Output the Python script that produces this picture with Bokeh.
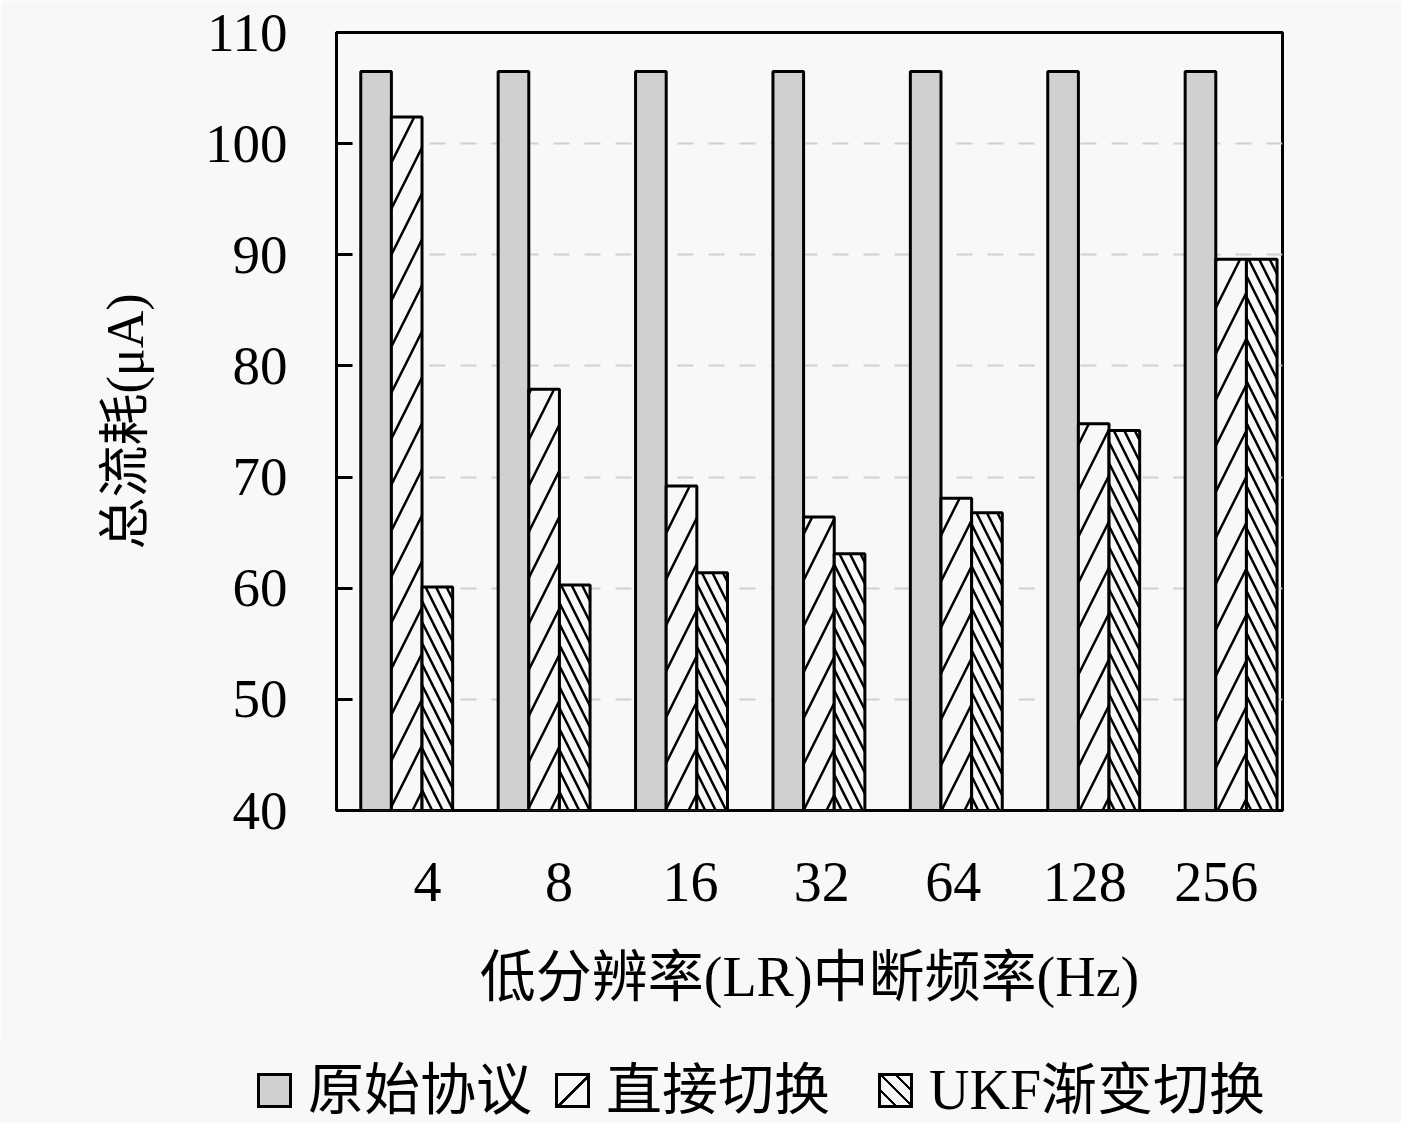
from bokeh.plotting import figure
from bokeh.layouts import column
from bokeh.models import ColumnDataSource, Range1d, LinearAxis, FixedTicker, Div
from bokeh.transform import dodge
from bokeh.embed import file_html
from bokeh.resources import INLINE

# low-resolution interrupt frequency (Hz)
freqs = ["4", "8", "16", "32", "64", "128", "256"]
# total current consumption (uA)
original = [106.5, 106.5, 106.5, 106.5, 106.5, 106.5, 106.5]
direct = [102.4, 77.9, 69.2, 66.4, 68.1, 74.8, 89.6]
ukf = [60.1, 60.3, 61.4, 63.1, 66.8, 74.2, 89.6]
names = ["原始协议", "直接切换", "UKF渐变切换"]
y_ticks = [40, 50, 60, 70, 80, 90, 100, 110]

FONT = "'Liberation Serif', 'Noto Sans CJK SC', serif"
BG = "#f8f8f8"
GRAY = "#d0d0d0"
BAR_W = 0.223
STYLES = [
    dict(fill_color=GRAY, line_color="black", line_width=3),
    dict(fill_color=BG, line_color="black", line_width=3,
         hatch_pattern="/", hatch_color="black", hatch_weight=2.5, hatch_scale=46),
    dict(fill_color=BG, line_color="black", line_width=3,
         hatch_pattern="\\", hatch_color="black", hatch_weight=2.5, hatch_scale=21),
]
# same fills for the legend swatches
SWATCHES = [
    GRAY,
    f"repeating-linear-gradient(135deg, {BG} 0 20px, black 20px 23px)",
    f"repeating-linear-gradient(45deg, {BG} 0 9px, black 9px 11px)",
]

idx = list(range(len(freqs)))
src = ColumnDataSource(dict(x=idx, original=original, direct=direct, ukf=ukf))

p = figure(frame_width=946, frame_height=778, output_backend="svg", toolbar_location=None,
           x_range=Range1d(-0.511, 6.374), y_range=Range1d(40, 110),
           x_axis_location=None,
           min_border_left=336, min_border_right=119, min_border_top=32, min_border_bottom=233,
           background_fill_color=BG, border_fill_color=BG)

p.outline_line_color = "black"
p.outline_line_width = 3

# y axis
p.yaxis.ticker = FixedTicker(ticks=y_ticks)
p.yaxis.major_tick_in = 16
p.yaxis.major_tick_out = 0
p.yaxis.major_tick_line_width = 3
p.yaxis.minor_tick_line_color = None
p.yaxis.axis_line_width = 3
p.yaxis.major_label_standoff = 49
p.yaxis.major_label_text_font = FONT
p.yaxis.major_label_text_font_size = "55px"
p.yaxis.major_label_text_color = "black"
p.yaxis.axis_label = "总流耗(μA)"
p.yaxis.axis_label_text_font = FONT
p.yaxis.axis_label_text_font_size = "52px"
p.yaxis.axis_label_text_font_style = "normal"
p.yaxis.axis_label_text_color = "black"
p.yaxis.axis_label_standoff = 48

# grid
p.xgrid.visible = False
p.ygrid.ticker = FixedTicker(ticks=y_ticks)
p.ygrid.grid_line_color = "#d0d0d0"
p.ygrid.grid_line_width = 2
p.ygrid.grid_line_dash = "16 15"

# x axis with category labels (labels sit on their own spacing)
p.extra_x_ranges = {"lab": Range1d(-0.692, 6.504)}
xax = LinearAxis(x_range_name="lab", ticker=FixedTicker(ticks=idx),
                 major_label_overrides={i: f for i, f in enumerate(freqs)})
xax.axis_line_color = None
xax.major_tick_line_color = None
xax.minor_tick_line_color = None
xax.major_label_standoff = 46
xax.major_label_text_font = FONT
xax.major_label_text_font_size = "56px"
xax.major_label_text_color = "black"
xax.axis_label = "低分辨率(LR)中断频率(Hz)"
xax.axis_label_text_font = FONT
xax.axis_label_text_font_size = "56px"
xax.axis_label_text_font_style = "normal"
xax.axis_label_text_color = "black"
xax.axis_label_standoff = 42
p.add_layout(xax, "below")

cols = ["original", "direct", "ukf"]
offsets = [-BAR_W, 0, BAR_W]
for col, off, st in zip(cols, offsets, STYLES):
    p.vbar(x=dodge("x", off, range=p.x_range), top=col, bottom=40, width=BAR_W,
           source=src, **st)

# legend strip under the chart (a plot legend cannot sit outside the frame here)
gaps = [23, 48, 0]
parts = []
for n, sw, g in zip(names, SWATCHES, gaps):
    parts.append(
        f'<span style="display:inline-block;box-sizing:border-box;width:35px;height:35px;'
        f'border:3px solid black;background:{sw};margin-right:16px;"></span>'
        f'<span style="margin-right:{g}px;">{n}</span>')
html = (f'<div style="display:flex;align-items:center;box-sizing:border-box;width:1401px;'
        f'height:80px;padding:14px 0 0 257px;font-family:{FONT};font-size:56px;'
        f'line-height:1;color:black;background:{BG};white-space:nowrap;">'
        + "".join(parts) + '</div>')
leg = Div(text=html, width=1401, height=80, margin=0,
          styles={"background-color": BG, "margin": "0", "padding": "0"})

open("out.html", "w").write(file_html(column(p, leg, spacing=0), INLINE))
